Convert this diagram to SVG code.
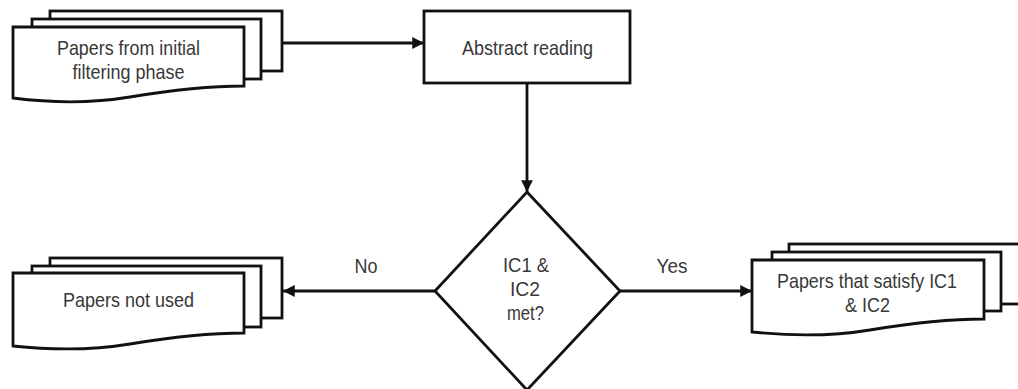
<svg xmlns="http://www.w3.org/2000/svg" width="1018" height="389" viewBox="0 0 1018 389">
  <style>
    .shape { fill: #ffffff; stroke: #111111; stroke-width: 2.8; stroke-linejoin: miter; }
    .link { fill: none; stroke: #111111; stroke-width: 2.8; }
    .label { font-family: "Liberation Sans Narrow", "Liberation Sans", Arial, sans-serif; font-size: 21px; fill: #383838; text-anchor: middle; }
  </style>
  <defs>
    <marker id="arrow" viewBox="0 0 10 10" refX="10" refY="5" markerWidth="4.4" markerHeight="4.2" markerUnits="strokeWidth" orient="auto">
      <path d="M0,0 L10,5 L0,10 z" fill="#111111"/>
    </marker>
  </defs>
  <rect width="1018" height="389" fill="#ffffff"/>

  <!-- Connectors -->
  <g id="connectors">
    <line class="link" x1="282" y1="43" x2="424" y2="43" marker-end="url(#arrow)"/>
    <line class="link" x1="527" y1="83" x2="527" y2="192" marker-end="url(#arrow)"/>
    <line class="link" x1="435" y1="291" x2="283" y2="291" marker-end="url(#arrow)"/>
    <line class="link" x1="620" y1="291" x2="752" y2="291" marker-end="url(#arrow)"/>
    <text class="label" x="366" y="273" textLength="23" lengthAdjust="spacingAndGlyphs">No</text>
    <text class="label" x="672" y="273" textLength="31" lengthAdjust="spacingAndGlyphs">Yes</text>
  </g>

  <!-- Input documents -->
  <g id="papers-initial">
    <rect class="shape" x="50" y="11" width="232" height="60"/>
    <rect class="shape" x="32" y="19" width="229" height="60"/>
    <path class="shape" d="M13,27 L244,27 L244,86 C200,86 160,92 130,97 C100,102 60,104 13,98 Z"/>
    <text class="label" x="128.5" y="55" textLength="143" lengthAdjust="spacingAndGlyphs">Papers from initial</text>
    <text class="label" x="128.5" y="79" textLength="112" lengthAdjust="spacingAndGlyphs">filtering phase</text>
  </g>

  <!-- Process step -->
  <g id="abstract-reading">
    <rect class="shape" x="424" y="11" width="206" height="72"/>
    <text class="label" x="527.5" y="55" textLength="131" lengthAdjust="spacingAndGlyphs">Abstract reading</text>
  </g>

  <!-- Decision -->
  <g id="decision">
    <path class="shape" d="M527,192 L620,291 L527,390 L435,291 Z"/>
    <text class="label" x="526" y="272" textLength="46" lengthAdjust="spacingAndGlyphs">IC1 &amp;</text>
    <text class="label" x="525" y="296" textLength="30" lengthAdjust="spacingAndGlyphs">IC2</text>
    <text class="label" x="525.5" y="320" textLength="37" lengthAdjust="spacingAndGlyphs">met?</text>
  </g>

  <!-- Rejected documents -->
  <g id="papers-not-used">
    <rect class="shape" x="50" y="258" width="232" height="60"/>
    <rect class="shape" x="32" y="266" width="229" height="61"/>
    <path class="shape" d="M13,273 L244,273 L244,333 C200,333 160,339 130,344 C100,349 60,351 13,346 Z"/>
    <text class="label" x="128.5" y="307" textLength="131" lengthAdjust="spacingAndGlyphs">Papers not used</text>
  </g>

  <!-- Accepted documents -->
  <g id="papers-satisfy">
    <rect class="shape" x="789" y="244" width="240" height="60"/>
    <rect class="shape" x="772" y="252" width="229" height="59"/>
    <path class="shape" d="M752,260 L984,260 L984,319 C940,319 900,325 870,330 C840,335 800,337 752,332 Z"/>
    <text class="label" x="867" y="288" textLength="180" lengthAdjust="spacingAndGlyphs">Papers that satisfy IC1</text>
    <text class="label" x="867.5" y="312" textLength="45" lengthAdjust="spacingAndGlyphs">&amp; IC2</text>
  </g>
</svg>
